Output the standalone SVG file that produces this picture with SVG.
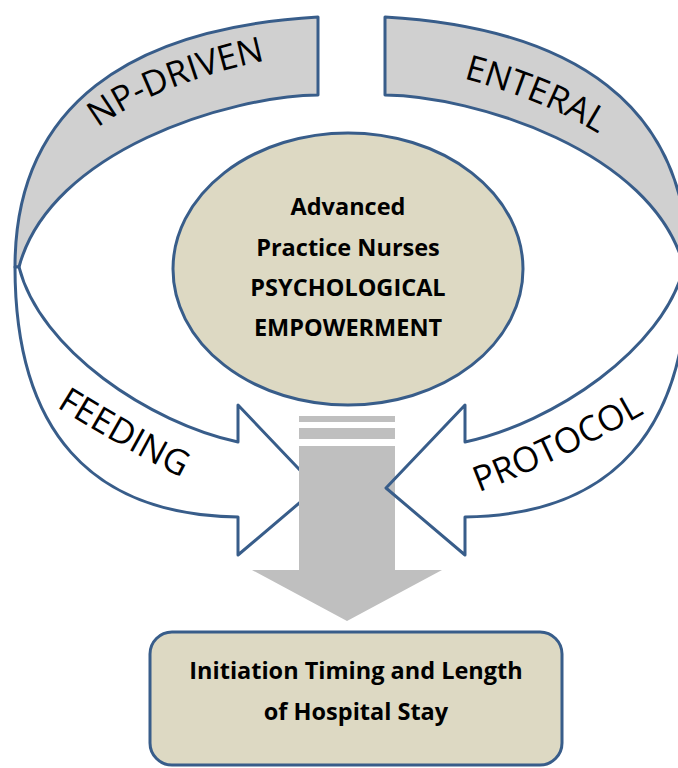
<svg xmlns="http://www.w3.org/2000/svg" width="678" height="768" viewBox="0 0 678 768">
  <defs>
    <style>
      .edge { stroke: #385d8a; stroke-width: 3; stroke-linejoin: round; }
      .back { fill: #d0d0d0; }
      .front { fill: #ffffff; }
      .hollow { fill: none; }
      .flow { fill: #bfbfbf; }
      .core { fill: #ddd9c3; }
      .label { font-family: "Open Sans", "DejaVu Sans", sans-serif; font-size: 35px; fill: #000; }
      .bold { font-family: "Open Sans", "DejaVu Sans", sans-serif; font-weight: 700; font-size: 23.5px; fill: #000; text-anchor: middle; }
    </style>
    <!-- curved band: shaded back face, then the front face ending in a right-pointing head -->
    <path id="band-back" d="M318,17 C130,28 15,105 15,267 L19,267 C50,150 230,96 318,95 Z"/>
    <path id="band-front" d="M15,267 C15,430 90,515 238,517 L238,555 L317,488 L238,405 L238,442 C150,423 40,350 19,267 Z"/>
    <!-- baselines for the curved labels -->
    <path id="base-np" d="M78,143.5 L95,130 Q153,85 267,60 L290,55"/>
    <path id="base-enteral" d="M441,72 L462,78 Q544.5,100.5 597,133 L618,146"/>
    <path id="base-feeding" d="M40.6,398 L58,408 Q115,443.5 180,477 L197.4,487"/>
    <path id="base-protocol" d="M456,501 L477,493 Q561,461 645,413 L666,401"/>
  </defs>

  <rect width="678" height="768" fill="#ffffff"/>

  <!-- left curved arrow -->
  <g id="np-driven-feeding">
    <use href="#band-back" class="back edge"/>
    <use href="#band-front" class="front edge"/>
  </g>

  <!-- central downward flow arrow -->
  <g id="connectors">
    <rect class="flow" x="299" y="416" width="96" height="6"/>
    <rect class="flow" x="299" y="428" width="96" height="11"/>
    <path class="flow" d="M299,446 H395 V570 H442 L347,621 L252,570 H299 Z"/>
  </g>

  <!-- right curved arrow (mirror of the left one) -->
  <g id="enteral-protocol">
    <g transform="matrix(-1 0 0 1 703 0)">
      <use href="#band-back" class="back edge"/>
      <use href="#band-front" class="hollow edge"/>
    </g>
  </g>

  <g id="band-labels">
    <text class="label"><textPath href="#base-np" startOffset="50%" text-anchor="middle">NP-DRIVEN</textPath></text>
    <text class="label"><textPath href="#base-enteral" startOffset="50%" text-anchor="middle">ENTERAL</textPath></text>
    <text class="label"><textPath href="#base-feeding" startOffset="50%" text-anchor="middle">FEEDING</textPath></text>
    <text class="label"><textPath href="#base-protocol" startOffset="50%" text-anchor="middle">PROTOCOL</textPath></text>
  </g>

  <g id="empowerment">
    <ellipse class="core edge" cx="348" cy="269" rx="175" ry="136"/>
    <text class="bold" x="348" y="215">Advanced</text>
    <text class="bold" x="348" y="256">Practice Nurses</text>
    <text class="bold" x="348" y="296">PSYCHOLOGICAL</text>
    <text class="bold" x="348" y="336">EMPOWERMENT</text>
  </g>

  <g id="outcome">
    <rect class="core edge" x="150" y="632" width="412" height="133" rx="22"/>
    <text class="bold" x="356" y="679">Initiation Timing and Length</text>
    <text class="bold" x="356" y="720">of Hospital Stay</text>
  </g>
</svg>
